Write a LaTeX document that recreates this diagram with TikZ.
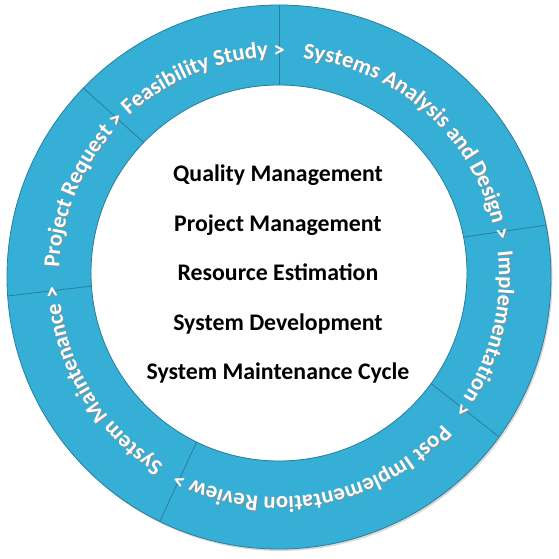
\documentclass[tikz,border=0pt]{standalone}
\usepackage{fontspec}
\setmainfont{Carlito}
\usepackage{xcolor}
\usetikzlibrary{positioning, calc, decorations.text}

\definecolor{ringblue}{HTML}{35AFD6}
\definecolor{ringedge}{HTML}{2A7E9C}
\newcommand{\ringfont}{\fontsize{22.7}{27}\selectfont\bfseries}

\begin{document}
\begin{tikzpicture}[
    x=1pt, y=1pt,
    ring/.style={fill=ringblue, draw=ringedge, line width=0.8pt, even odd rule},
    divider/.style={draw=ringedge, line width=0.8pt},
    ringtext/.style={decorate, decoration={text along path, text color=#1, text align=right}},
    item/.style={font=\fontsize{23.8}{28}\selectfont\bfseries, text height=16pt, text depth=5pt, inner sep=0pt},
]
    \useasboundingbox (-279,-282) rectangle (280,277);
    % ring with a soft shadow
    \fill[black!15] (1.5,-2) circle[radius=272];
    \fill[white] (0,4) circle[radius=188];
    \path[ring] (0,0) circle[radius=272] (0,4) circle[radius=188];
    \foreach \a in {184,136,90,11,-36,-116}
        \draw[divider] ($(0,4)+(\a:188)$) -- (\a:272);

    % cycle text, clockwise (shadow first, then white)
    \foreach \col/\off in {black!45/0.9, white/0} {
    \begin{scope}[shift={(\off,-\off)}]
    \path[ringtext=\col, decoration={text={|\ringfont|Project Request >}}] (184:220) arc[start angle=184, end angle=134.5, radius=220];
    \path[ringtext=\col, decoration={text={|\ringfont|Feasibility Study >}}] (136:220) arc[start angle=136, end angle=88.5, radius=220];
    \path[ringtext=\col, decoration={text={|\ringfont|Systems Analysis and Design >}}] (90:220) arc[start angle=90, end angle=9.5, radius=220];
    \path[ringtext=\col, decoration={text={|\ringfont|Implementation >}}] (11:220) arc[start angle=11, end angle=-37.5, radius=220];
    \path[ringtext=\col, decoration={text={|\ringfont|Post Implementation Review >}}] (-36:220) arc[start angle=-36, end angle=-117.5, radius=220];
    \path[ringtext=\col, decoration={text={|\ringfont|System Maintenance >}}] (-116:220) arc[start angle=-116, end angle=-177.5, radius=220];
    \end{scope}
    }

    % centre list
    \node[item, anchor=base] (quality) at (-1,95) {Quality Management};
    \node[item, below=28pt of quality] (project) {Project Management};
    \node[item, below=28pt of project] (resource) {Resource Estimation};
    \node[item, below=28pt of resource] (develop) {System Development};
    \node[item, below=28pt of develop] (cycle) {System Maintenance Cycle};
\end{tikzpicture}
\end{document}
